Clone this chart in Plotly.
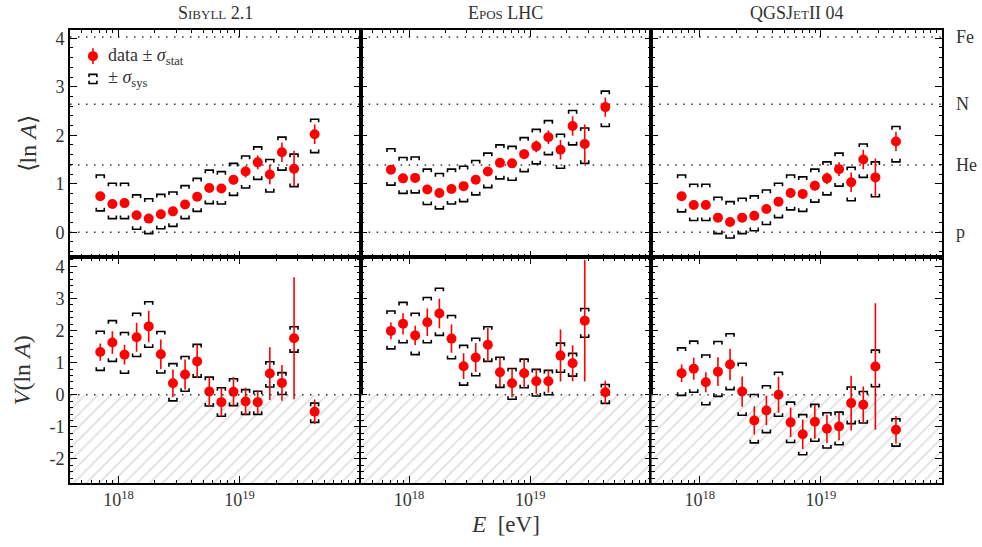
import plotly.graph_objects as go
from plotly.subplots import make_subplots

# ---------------- data ----------------
lgE = [17.85, 17.95, 18.05, 18.15, 18.25, 18.35, 18.45, 18.55, 18.65,
       18.75, 18.85, 18.95, 19.05, 19.15, 19.25, 19.35, 19.45, 19.62]

models = ["Sibyll 2.1", "Epos LHC", "QGSJetII 04"]

sib_lnA = [0.74, 0.58, 0.60, 0.35, 0.28, 0.37, 0.43, 0.57, 0.73, 0.91, 0.90, 1.08, 1.25, 1.44, 1.19, 1.65, 1.31, 2.02]
sib_lnA_stat = [0.06, 0.06, 0.06, 0.05, 0.05, 0.05, 0.05, 0.06, 0.07, 0.08, 0.08, 0.10, 0.12, 0.14, 0.20, 0.20, 0.37, 0.20]
sib_lnA_syshi = [1.18, 1.01, 1.01, 0.77, 0.69, 0.78, 0.83, 0.96, 1.11, 1.28, 1.25, 1.42, 1.57, 1.76, 1.50, 1.96, 1.61, 2.33]
sib_lnA_syslo = [0.44, 0.28, 0.28, 0.06, -0.03, 0.07, 0.12, 0.28, 0.43, 0.59, 0.58, 0.76, 0.91, 1.09, 0.83, 1.28, 0.94, 1.64]

epos_lnA = [1.29, 1.11, 1.12, 0.88, 0.81, 0.89, 0.95, 1.08, 1.25, 1.43, 1.42, 1.61, 1.77, 1.96, 1.70, 2.19, 1.82, 2.58]
epos_lnA_stat = [0.06, 0.06, 0.06, 0.05, 0.05, 0.05, 0.05, 0.06, 0.07, 0.08, 0.08, 0.10, 0.12, 0.14, 0.20, 0.20, 0.40, 0.20]
epos_lnA_syshi = [1.72, 1.54, 1.55, 1.30, 1.21, 1.30, 1.36, 1.48, 1.63, 1.80, 1.77, 1.95, 2.12, 2.30, 2.02, 2.51, 2.15, 2.91]
epos_lnA_syslo = [0.97, 0.80, 0.81, 0.57, 0.48, 0.58, 0.63, 0.77, 0.92, 1.10, 1.07, 1.25, 1.41, 1.60, 1.32, 1.80, 1.42, 2.18]

qgs_lnA = [0.74, 0.56, 0.56, 0.30, 0.21, 0.30, 0.34, 0.48, 0.63, 0.81, 0.79, 0.96, 1.11, 1.30, 1.03, 1.50, 1.13, 1.87]
qgs_lnA_stat = [0.06, 0.06, 0.06, 0.05, 0.05, 0.05, 0.05, 0.06, 0.07, 0.08, 0.08, 0.10, 0.12, 0.14, 0.20, 0.20, 0.39, 0.20]
qgs_lnA_syshi = [1.18, 0.99, 0.99, 0.72, 0.63, 0.70, 0.75, 0.87, 1.01, 1.18, 1.14, 1.30, 1.45, 1.63, 1.34, 1.82, 1.45, 2.18]
qgs_lnA_syslo = [0.42, 0.24, 0.24, -0.03, -0.12, -0.03, 0.03, 0.16, 0.30, 0.46, 0.43, 0.62, 0.77, 0.95, 0.65, 1.13, 0.73, 1.45]

sib_V = [1.33, 1.63, 1.25, 1.79, 2.13, 1.26, 0.36, 0.63, 1.04, 0.10, -0.23, 0.09, -0.21, -0.23, 0.66, 0.37, 1.76, -0.53]
sib_V_stat = [0.27, 0.35, 0.31, 0.45, 0.49, 0.46, 0.43, 0.47, 0.52, 0.46, 0.45, 0.46, 0.43, 0.36, 0.82, 0.56, 1.90, 0.38]
sib_V_syshi = [1.98, 2.31, 1.94, 2.54, 2.90, 1.97, 0.97, 1.19, 1.57, 0.55, 0.22, 0.50, 0.16, 0.11, 1.03, 0.69, 2.12, -0.26]
sib_V_syslo = [0.76, 1.04, 0.67, 1.19, 1.48, 0.68, -0.19, 0.11, 0.55, -0.35, -0.67, -0.34, -0.61, -0.61, 0.24, 0.01, 1.33, -0.86]

epos_V = [1.99, 2.21, 1.85, 2.26, 2.53, 1.75, 0.89, 1.16, 1.56, 0.70, 0.36, 0.67, 0.42, 0.42, 1.22, 0.98, 2.31, 0.08]
epos_V_stat = [0.26, 0.33, 0.30, 0.43, 0.46, 0.44, 0.40, 0.45, 0.53, 0.46, 0.44, 0.46, 0.39, 0.36, 0.81, 0.56, 1.90, 0.36]
epos_V_syshi = [2.61, 2.88, 2.54, 3.03, 3.32, 2.47, 1.54, 1.76, 2.12, 1.17, 0.82, 1.11, 0.79, 0.76, 1.61, 1.29, 2.69, 0.32]
epos_V_syslo = [1.43, 1.62, 1.25, 1.62, 1.85, 1.12, 0.30, 0.59, 1.04, 0.23, -0.14, 0.22, -0.04, 0.00, 0.70, 0.58, 1.79, -0.27]

qgs_V = [0.67, 0.81, 0.39, 0.72, 0.94, 0.10, -0.80, -0.49, 0.00, -0.86, -1.23, -0.84, -1.06, -0.99, -0.26, -0.31, 0.88, -1.09]
qgs_V_stat = [0.27, 0.34, 0.31, 0.45, 0.49, 0.47, 0.44, 0.46, 0.56, 0.46, 0.46, 0.53, 0.44, 0.43, 0.85, 0.57, 1.97, 0.43]
qgs_V_syshi = [1.46, 1.67, 1.24, 1.66, 1.90, 0.98, 0.01, 0.28, 0.70, -0.23, -0.62, -0.30, -0.56, -0.54, 0.24, 0.10, 1.39, -0.75]
qgs_V_syslo = [-0.02, 0.08, -0.31, -0.05, 0.16, -0.64, -1.50, -1.18, -0.67, -1.49, -1.87, -1.45, -1.66, -1.56, -0.90, -0.88, 0.25, -1.60]

element_names = ["p", "He", "N", "Fe"]
element_lnA = [0.0, 1.386, 2.639, 4.025]

top_ticks = [0, 1, 2, 3, 4]
bot_ticks = [-2, -1, 0, 1, 2, 3, 4]
bot_ticktext = ["-2", "-1", "0", "1", "2", "3", "4"]
x_tickvals = [1e18, 1e19]
x_ticktext = ["10<sup>18</sup>", "10<sup>19</sup>"]

# ---------------- style ----------------
FONT = "Liberation Serif"
RED = "#ff0000"
XR = [17.6, 20.0]
YR_TOP = [-0.52, 4.17]
YR_BOT = [-2.75, 4.28]
HALFW = 0.033      # bracket half width in decades
TICK_TOP = 0.065   # bracket end tick height (top row units)
TICK_BOT = 0.095   # bracket end tick height (bottom row units)

E = [10 ** v for v in lgE]

fig = make_subplots(rows=2, cols=3, horizontal_spacing=0, vertical_spacing=0,
                    row_heights=[0.502, 0.498])

top_data = [(sib_lnA, sib_lnA_stat, sib_lnA_syshi, sib_lnA_syslo),
            (epos_lnA, epos_lnA_stat, epos_lnA_syshi, epos_lnA_syslo),
            (qgs_lnA, qgs_lnA_stat, qgs_lnA_syshi, qgs_lnA_syslo)]
bot_data = [(sib_V, sib_V_stat, sib_V_syshi, sib_V_syslo),
            (epos_V, epos_V_stat, epos_V_syshi, epos_V_syslo),
            (qgs_V, qgs_V_stat, qgs_V_syshi, qgs_V_syslo)]


def bracket_path(xs, hi, lo, h):
    px, py = [], []
    for x, a, b in zip(xs, hi, lo):
        xl, xr = x * 10 ** (-HALFW), x * 10 ** HALFW
        px += [xl, xl, xr, xr, None, xl, xl, xr, xr, None]
        py += [a - h, a, a, a - h, None, b + h, b, b, b + h, None]
    return px, py


for row, dataset, th in [(1, top_data, TICK_TOP), (2, bot_data, TICK_BOT)]:
    for col, (val, stat, hi, lo) in enumerate(dataset, start=1):
        if row == 2:
            # hatched unphysical region
            x0, x1 = 10 ** XR[0], 10 ** XR[1]
            fig.add_trace(go.Scatter(
                x=[x0, x1, x1, x0, x0], y=[0, 0, YR_BOT[0], YR_BOT[0], 0],
                mode="lines", line=dict(width=0), fill="toself",
                fillcolor="rgba(0,0,0,0)",
                fillpattern=dict(shape="/", fgcolor="#bdbdbd", bgcolor="white",
                                 size=9, solidity=0.18),
                hoverinfo="skip", showlegend=False), row=row, col=col)
        bx, by = bracket_path(E, hi, lo, th)
        fig.add_trace(go.Scatter(x=bx, y=by, mode="lines",
                                 line=dict(color="black", width=1.6),
                                 showlegend=False, hoverinfo="skip"),
                      row=row, col=col)
        fig.add_trace(go.Scatter(x=E, y=val, mode="markers",
                                 marker=dict(color=RED, size=10),
                                 error_y=dict(type="data", array=stat, color=RED,
                                              thickness=1.6, width=0),
                                 showlegend=False), row=row, col=col)

# axes
for i in range(1, 7):
    row = 1 if i <= 3 else 2
    col = (i - 1) % 3 + 1
    fig.update_xaxes(
        type="log", range=XR, tickvals=x_tickvals, ticktext=x_ticktext,
        ticks="inside", ticklen=7, tickwidth=1.2, tickcolor="black",
        showline=True, linecolor="black", linewidth=1.6, mirror="allticks",
        showgrid=False, zeroline=False,
        showticklabels=(row == 2),
        tickfont=dict(family=FONT, size=18, color="#333"),
        minor=dict(ticks="inside", ticklen=3.5, dtick="D1", tickcolor="black",
                   tickwidth=1, showgrid=False),
        row=row, col=col)
    if row == 1:
        fig.update_yaxes(range=YR_TOP, tickvals=top_ticks, row=row, col=col)
    else:
        fig.update_yaxes(range=YR_BOT, tickvals=bot_ticks, ticktext=bot_ticktext,
                         row=row, col=col)
    fig.update_yaxes(
        ticks="inside", ticklen=7, tickwidth=1.2, tickcolor="black",
        showline=True, linecolor="black", linewidth=1.6, mirror="allticks",
        showgrid=False, zeroline=False,
        showticklabels=(col == 1),
        tickfont=dict(family=FONT, size=18, color="#333"),
        minor=dict(ticks="inside", ticklen=3.5, dtick=0.2, tickcolor="black",
                   tickwidth=1, showgrid=False),
        row=row, col=col)

fig.update_yaxes(title=dict(text="⟨ln <i>A</i>⟩", font=dict(family=FONT, size=24, color="#333"),
                            standoff=12), row=1, col=1)
fig.update_yaxes(title=dict(text="<i>V</i>(ln <i>A</i>)", font=dict(family=FONT, size=24, color="#333"),
                            standoff=12), row=2, col=1)
fig.update_xaxes(title=dict(text="<i>E</i>  [eV]", font=dict(family=FONT, size=23, color="#333"),
                            standoff=6), row=2, col=2)

shapes = []
annotations = []
dot = dict(color="#333", width=1.4, dash="1.5px,6.5px")
for k in range(1, 4):
    yref = "y" if k == 1 else f"y{k}"
    xref = "x domain" if k == 1 else f"x{k} domain"
    for v in element_lnA:
        shapes.append(dict(type="line", xref=xref, yref=yref, x0=0, x1=1, y0=v, y1=v,
                           line=dot, layer="below"))
    # model title
    annotations.append(dict(text=models[k - 1], xref=xref, yref="paper", x=0.5, y=1.0,
                            yshift=5, yanchor="bottom", showarrow=False,
                            font=dict(family=FONT, size=18, color="#333", variant="small-caps")))
for k in range(4, 7):
    yref = f"y{k}"
    xref = f"x{k} domain"
    shapes.append(dict(type="line", xref=xref, yref=yref, x0=0, x1=1, y0=0, y1=0,
                       line=dot, layer="above"))

for name, v in zip(element_names, element_lnA):
    annotations.append(dict(text=name, xref="x3 domain", yref="y3", x=1.0, y=v,
                            xshift=12, xanchor="left", showarrow=False,
                            font=dict(family=FONT, size=18, color="#333")))

# hand-made legend in the top-left panel
lx, ly1, ly2 = 0.079, 0.885, 0.785
shapes.append(dict(type="line", xref="x domain", yref="y domain", x0=lx, x1=lx,
                   y0=ly1 - 0.035, y1=ly1 + 0.035, line=dict(color=RED, width=1.6)))
shapes.append(dict(type="circle", xref="x domain", yref="y domain",
                   x0=lx - 0.0172, x1=lx + 0.0172, y0=ly1 - 0.022, y1=ly1 + 0.022,
                   fillcolor=RED, line=dict(color=RED, width=0)))
bw, bh, bg = 0.0135, 0.012, 0.02
for sgn in (1, -1):
    yb = ly2 + sgn * bg
    shapes.append(dict(type="path", xref="x domain", yref="y domain",
                       path=f"M {lx-bw},{yb - sgn*bh} L {lx-bw},{yb} L {lx+bw},{yb} L {lx+bw},{yb - sgn*bh}",
                       line=dict(color="black", width=1.6)))
annotations.append(dict(text="data ± <i>σ</i><sub>stat</sub>", xref="x domain", yref="y domain",
                        x=0.125, y=ly1, xanchor="left", yanchor="middle", showarrow=False,
                        font=dict(family=FONT, size=18, color="#333")))
annotations.append(dict(text="± <i>σ</i><sub>sys</sub>", xref="x domain", yref="y domain",
                        x=0.125, y=ly2, xanchor="left", yanchor="middle", showarrow=False,
                        font=dict(family=FONT, size=18, color="#333")))

fig.update_layout(width=982, height=547,
                  margin=dict(l=70, r=40, t=30, b=64),
                  paper_bgcolor="white", plot_bgcolor="white",
                  shapes=shapes, annotations=annotations,
                  font=dict(family=FONT, color="#333"),
                  showlegend=False)

fig.write_html("out.html")
